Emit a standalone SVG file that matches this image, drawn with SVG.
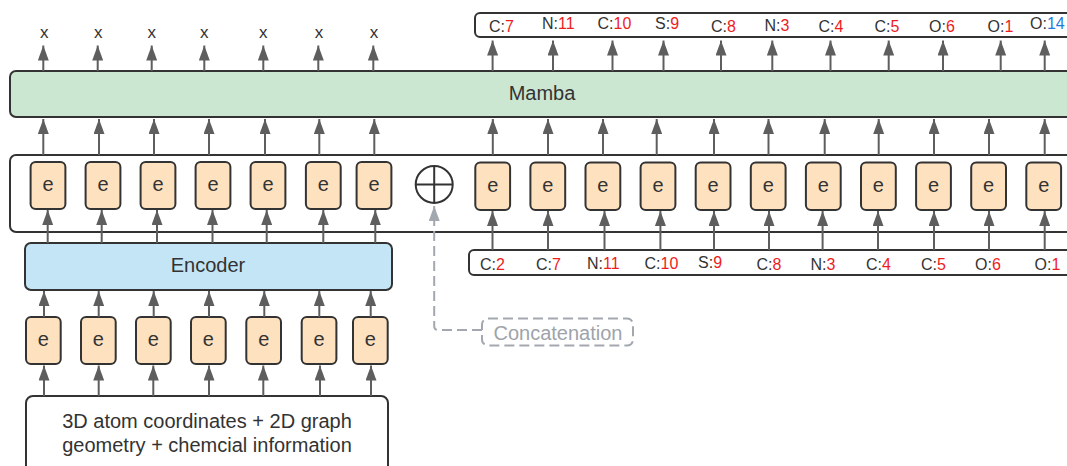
<svg xmlns="http://www.w3.org/2000/svg" width="1067" height="466" viewBox="0 0 1067 466">
  <defs>
    <marker id="arr" viewBox="0 0 15 11" refX="15" refY="5.5" markerWidth="15" markerHeight="11" markerUnits="userSpaceOnUse" orient="auto">
      <path d="M0,0 L15,5.5 L0,11 z" fill="#5e5e5e"/>
    </marker>
    <marker id="arrGray" viewBox="0 0 15 11" refX="15" refY="5.5" markerWidth="15" markerHeight="11" markerUnits="userSpaceOnUse" orient="auto">
      <path d="M0,0 L15,5.5 L0,11 z" fill="#a3a8b0"/>
    </marker>
  </defs>
  <style>
    text { font-family: "Liberation Sans", Arial, sans-serif; fill: #333333; }
    .box { stroke: #333333; stroke-width: 2; }
    .emb { fill: #fee1bf; stroke: #333333; stroke-width: 2; }
    .et { font-size: 20px; text-anchor: middle; }
    .big { font-size: 20px; text-anchor: middle; }
    .lab { font-size: 16px; }
    .num { fill: #ee1c1c; }
    .blue { fill: #1f7ae0; }
    .xl { font-size: 17px; text-anchor: middle; }
    .c line { stroke: #5e5e5e; stroke-width: 2; marker-end: url(#arr); }
    .dash { stroke: #a3a8b0; stroke-width: 2; stroke-dasharray: 10 5; fill: none; }
  </style>

  <rect width="1067" height="466" fill="#ffffff"/>

  <!-- Mamba block -->
  <g id="mamba">
    <rect class="box" x="10" y="71" width="1100" height="46" rx="6" fill="#cbe6d1"/>
    <text class="big" x="542" y="100">Mamba</text>
  </g>

  <!-- Container holding the embedding row -->
  <g id="embedding-row">
    <rect class="box" x="10" y="155" width="1100" height="77" rx="6" fill="#ffffff"/>
  </g>

  <!-- Encoder block -->
  <g id="encoder">
    <rect class="box" x="25" y="243" width="367" height="47" rx="6" fill="#c4e5f5"/>
    <text class="big" x="208" y="272">Encoder</text>
  </g>

  <!-- Input features -->
  <g id="input">
    <rect class="box" x="26" y="396" width="362" height="100" rx="7" fill="#ffffff"/>
    <text class="big" x="207" y="428">3D atom coordinates + 2D graph</text>
    <text class="big" x="207" y="452">geometry + chemcial information</text>
  </g>

  <!-- Token label strips -->
  <g id="output-labels">
    <rect class="box" x="475" y="13" width="640" height="24" rx="5" fill="#ffffff"/>
    <text class="lab" x="489" y="31.7">C:<tspan class="num">7</tspan></text>
    <text class="lab" x="542" y="29.3">N:<tspan class="num">11</tspan></text>
    <text class="lab" x="597.5" y="29.3">C:<tspan class="num">10</tspan></text>
    <text class="lab" x="655" y="28.5">S:<tspan class="num">9</tspan></text>
    <text class="lab" x="711" y="31.7">C:<tspan class="num">8</tspan></text>
    <text class="lab" x="764.5" y="31">N:<tspan class="num">3</tspan></text>
    <text class="lab" x="818.5" y="31.7">C:<tspan class="num">4</tspan></text>
    <text class="lab" x="874.5" y="31.7">C:<tspan class="num">5</tspan></text>
    <text class="lab" x="929" y="31.7">O:<tspan class="num">6</tspan></text>
    <text class="lab" x="987.5" y="31.7">O:<tspan class="num">1</tspan></text>
    <text class="lab" x="1030" y="29.3">O:<tspan class="blue">14</tspan></text>
  </g>

  <g id="input-labels">
    <rect class="box" x="469" y="250" width="640" height="25" rx="5" fill="#ffffff"/>
    <text class="lab" x="480" y="270">C:<tspan class="num">2</tspan></text>
    <text class="lab" x="536" y="270">C:<tspan class="num">7</tspan></text>
    <text class="lab" x="587" y="269">N:<tspan class="num">11</tspan></text>
    <text class="lab" x="644.5" y="269">C:<tspan class="num">10</tspan></text>
    <text class="lab" x="698" y="268">S:<tspan class="num">9</tspan></text>
    <text class="lab" x="756.5" y="270">C:<tspan class="num">8</tspan></text>
    <text class="lab" x="810.5" y="270">N:<tspan class="num">3</tspan></text>
    <text class="lab" x="866" y="270">C:<tspan class="num">4</tspan></text>
    <text class="lab" x="921" y="270">C:<tspan class="num">5</tspan></text>
    <text class="lab" x="975" y="270">O:<tspan class="num">6</tspan></text>
    <text class="lab" x="1034.5" y="270">O:<tspan class="num">1</tspan></text>
  </g>

  <!-- Output markers above Mamba -->
  <g id="outputs-x">
    <text class="xl" x="44.3" y="38">x</text>
    <text class="xl" x="98.3" y="38">x</text>
    <text class="xl" x="151.7" y="38">x</text>
    <text class="xl" x="204.3" y="38">x</text>
    <text class="xl" x="263.3" y="38">x</text>
    <text class="xl" x="319" y="38">x</text>
    <text class="xl" x="374" y="38">x</text>
  </g>

  <!-- Embeddings fed into Mamba (structure side) -->
  <g id="emb-struct">
    <rect class="emb" x="30.6" y="162" width="34.8" height="47" rx="5"/><text class="et" x="48" y="191">e</text>
    <rect class="emb" x="85.6" y="162" width="34.8" height="47" rx="5"/><text class="et" x="103" y="191">e</text>
    <rect class="emb" x="140.6" y="162" width="34.8" height="47" rx="5"/><text class="et" x="158" y="191">e</text>
    <rect class="emb" x="195.6" y="162" width="34.8" height="47" rx="5"/><text class="et" x="213" y="191">e</text>
    <rect class="emb" x="250.6" y="162" width="34.8" height="47" rx="5"/><text class="et" x="268" y="191">e</text>
    <rect class="emb" x="305.9" y="162" width="34.8" height="47" rx="5"/><text class="et" x="323.3" y="191">e</text>
    <rect class="emb" x="356.6" y="162" width="34.8" height="47" rx="5"/><text class="et" x="374" y="191">e</text>
  </g>

  <!-- Embeddings fed into Mamba (token side) -->
  <g id="emb-tokens">
    <rect class="emb" x="475.3" y="162.5" width="34.8" height="47.5" rx="5"/><text class="et" x="492.7" y="191.5">e</text>
    <rect class="emb" x="530.4" y="162.5" width="34.8" height="47.5" rx="5"/><text class="et" x="547.8" y="191.5">e</text>
    <rect class="emb" x="585.5" y="162.5" width="34.8" height="47.5" rx="5"/><text class="et" x="602.9" y="191.5">e</text>
    <rect class="emb" x="640.6" y="162.5" width="34.8" height="47.5" rx="5"/><text class="et" x="658" y="191.5">e</text>
    <rect class="emb" x="695.7" y="162.5" width="34.8" height="47.5" rx="5"/><text class="et" x="713.1" y="191.5">e</text>
    <rect class="emb" x="750.8" y="162.5" width="34.8" height="47.5" rx="5"/><text class="et" x="768.2" y="191.5">e</text>
    <rect class="emb" x="805.9" y="162.5" width="34.8" height="47.5" rx="5"/><text class="et" x="823.3" y="191.5">e</text>
    <rect class="emb" x="861" y="162.5" width="34.8" height="47.5" rx="5"/><text class="et" x="878.4" y="191.5">e</text>
    <rect class="emb" x="916.1" y="162.5" width="34.8" height="47.5" rx="5"/><text class="et" x="933.5" y="191.5">e</text>
    <rect class="emb" x="971.2" y="162.5" width="34.8" height="47.5" rx="5"/><text class="et" x="988.6" y="191.5">e</text>
    <rect class="emb" x="1026.3" y="162.5" width="34.8" height="47.5" rx="5"/><text class="et" x="1043.7" y="191.5">e</text>
  </g>

  <!-- Atom embeddings fed into the encoder -->
  <g id="emb-atoms">
    <rect class="emb" x="26" y="317" width="34.7" height="47" rx="5"/><text class="et" x="43.3" y="346">e</text>
    <rect class="emb" x="81" y="317" width="34.7" height="47" rx="5"/><text class="et" x="98.3" y="346">e</text>
    <rect class="emb" x="136" y="317" width="34.7" height="47" rx="5"/><text class="et" x="153.3" y="346">e</text>
    <rect class="emb" x="191" y="317" width="34.7" height="47" rx="5"/><text class="et" x="208.3" y="346">e</text>
    <rect class="emb" x="246.3" y="317" width="34.7" height="47" rx="5"/><text class="et" x="263.7" y="346">e</text>
    <rect class="emb" x="301.7" y="317" width="34.7" height="47" rx="5"/><text class="et" x="319" y="346">e</text>
    <rect class="emb" x="353" y="317" width="34.7" height="47" rx="5"/><text class="et" x="370.3" y="346">e</text>
  </g>

  <!-- Concatenation operator -->
  <g id="concat-op">
    <circle cx="434.2" cy="184.5" r="18.5" fill="#ffffff" stroke="#333333" stroke-width="2"/>
    <line x1="415.7" y1="184.5" x2="452.7" y2="184.5" stroke="#333333" stroke-width="2"/>
    <line x1="434.2" y1="166" x2="434.2" y2="203" stroke="#333333" stroke-width="2"/>
  </g>

  <g id="concat-note">
    <rect class="dash" x="482" y="318.5" width="151" height="27" rx="6"/>
    <text x="558" y="340" font-size="20" text-anchor="middle" fill="#9ea3ab" style="fill:#9ea3ab">Concatenation</text>
  </g>

  <!-- Connectors -->
  <g id="connectors" class="c">
    <!-- Mamba to outputs (left) -->
    <line x1="43.3" y1="71" x2="43.3" y2="45.5"/>
    <line x1="97.7" y1="71" x2="97.7" y2="45.5"/>
    <line x1="151.7" y1="71" x2="151.7" y2="45.5"/>
    <line x1="204.3" y1="71" x2="204.3" y2="45.5"/>
    <line x1="263.3" y1="71" x2="263.3" y2="45.5"/>
    <line x1="318.3" y1="71" x2="318.3" y2="45.5"/>
    <line x1="373.3" y1="71" x2="373.3" y2="45.5"/>
    <!-- Mamba to output labels (right) -->
    <line x1="492.6" y1="71" x2="492.6" y2="40.5"/>
    <line x1="553" y1="71" x2="553" y2="40.5"/>
    <line x1="612.5" y1="71" x2="612.5" y2="40.5"/>
    <line x1="663.5" y1="71" x2="663.5" y2="40.5"/>
    <line x1="721" y1="71" x2="721" y2="40.5"/>
    <line x1="772.3" y1="71" x2="772.3" y2="40.5"/>
    <line x1="830.5" y1="71" x2="830.5" y2="40.5"/>
    <line x1="888.7" y1="71" x2="888.7" y2="40.5"/>
    <line x1="943" y1="71" x2="943" y2="40.5"/>
    <line x1="1000.7" y1="71" x2="1000.7" y2="40.5"/>
    <line x1="1044.7" y1="71" x2="1044.7" y2="40.5"/>
    <!-- embedding row to Mamba -->
    <line x1="43.3" y1="155" x2="43.3" y2="119"/>
    <line x1="99" y1="155" x2="99" y2="119"/>
    <line x1="154" y1="155" x2="154" y2="119"/>
    <line x1="209" y1="155" x2="209" y2="119"/>
    <line x1="265" y1="155" x2="265" y2="119"/>
    <line x1="319.3" y1="155" x2="319.3" y2="119"/>
    <line x1="374.3" y1="155" x2="374.3" y2="119"/>
    <line x1="492.8" y1="155" x2="492.8" y2="119"/>
    <line x1="548" y1="155" x2="548" y2="119"/>
    <line x1="603" y1="155" x2="603" y2="119"/>
    <line x1="656.7" y1="155" x2="656.7" y2="119"/>
    <line x1="714" y1="155" x2="714" y2="119"/>
    <line x1="768.5" y1="155" x2="768.5" y2="119"/>
    <line x1="824.7" y1="155" x2="824.7" y2="119"/>
    <line x1="878.7" y1="155" x2="878.7" y2="119"/>
    <line x1="934" y1="155" x2="934" y2="119"/>
    <line x1="989" y1="155" x2="989" y2="119"/>
    <line x1="1044.7" y1="155" x2="1044.7" y2="119"/>
    <!-- encoder to structure embeddings -->
    <line x1="47.7" y1="243" x2="47.7" y2="210"/>
    <line x1="101.7" y1="243" x2="101.7" y2="210"/>
    <line x1="157" y1="243" x2="157" y2="210"/>
    <line x1="212.5" y1="243" x2="212.5" y2="210"/>
    <line x1="266.7" y1="243" x2="266.7" y2="210"/>
    <line x1="323.3" y1="243" x2="323.3" y2="210"/>
    <line x1="375.3" y1="243" x2="375.3" y2="210"/>
    <!-- input labels to token embeddings -->
    <line x1="492.5" y1="250" x2="492.5" y2="211"/>
    <line x1="548" y1="250" x2="548" y2="211"/>
    <line x1="604.5" y1="250" x2="604.5" y2="211"/>
    <line x1="660.4" y1="250" x2="660.4" y2="211"/>
    <line x1="714" y1="250" x2="714" y2="211"/>
    <line x1="769" y1="250" x2="769" y2="211"/>
    <line x1="822.6" y1="250" x2="822.6" y2="211"/>
    <line x1="878" y1="250" x2="878" y2="211"/>
    <line x1="934" y1="250" x2="934" y2="211"/>
    <line x1="989" y1="250" x2="989" y2="211"/>
    <line x1="1044.7" y1="250" x2="1044.7" y2="211"/>
    <!-- atom embeddings to encoder -->
    <line x1="44" y1="317" x2="44" y2="291"/>
    <line x1="98.7" y1="317" x2="98.7" y2="291"/>
    <line x1="153.7" y1="317" x2="153.7" y2="291"/>
    <line x1="209" y1="317" x2="209" y2="291"/>
    <line x1="264.3" y1="317" x2="264.3" y2="291"/>
    <line x1="319.3" y1="317" x2="319.3" y2="291"/>
    <line x1="370.7" y1="317" x2="370.7" y2="291"/>
    <!-- input features to atom embeddings -->
    <line x1="44" y1="396" x2="44" y2="365.5"/>
    <line x1="98.7" y1="396" x2="98.7" y2="365.5"/>
    <line x1="153.3" y1="396" x2="153.3" y2="365.5"/>
    <line x1="209" y1="396" x2="209" y2="365.5"/>
    <line x1="263.3" y1="396" x2="263.3" y2="365.5"/>
    <line x1="320" y1="396" x2="320" y2="365.5"/>
    <line x1="371" y1="396" x2="371" y2="365.5"/>
    <!-- note pointer to the concatenation operator -->
    <path class="dash" d="M482,330 L438.2,330 Q434.2,330 434.2,326 L434.2,206" marker-end="url(#arrGray)"/>
  </g>
</svg>
